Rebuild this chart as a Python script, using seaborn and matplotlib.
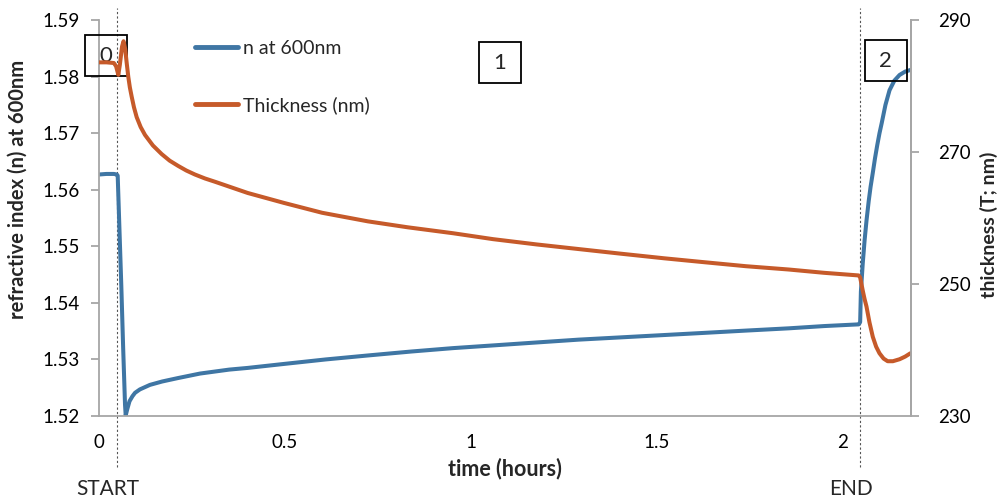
import matplotlib
matplotlib.use("Agg")
import matplotlib.pyplot as plt
from matplotlib.patches import Rectangle
from matplotlib.lines import Line2D
import seaborn as sns
import pandas as pd

# ---- data ----
n_time = [0.000, 0.020, 0.040, 0.048, 0.0503, 0.055, 0.060, 0.065, 0.070, 0.0718,
          0.076, 0.082, 0.090, 0.097, 0.110, 0.137, 0.170, 0.212, 0.2715, 0.350,
          0.400, 0.497, 0.610, 0.723, 0.840, 0.952, 1.065, 1.177, 1.290, 1.403,
          1.516, 1.629, 1.740, 1.855, 1.950, 2.043, 2.047, 2.049, 2.054, 2.059,
          2.064, 2.070, 2.075, 2.081, 2.087, 2.093, 2.099, 2.105, 2.115, 2.126,
          2.139, 2.153, 2.168, 2.183]
n_vals = [1.5627, 1.5628, 1.5628, 1.5627, 1.5625, 1.5530, 1.5430, 1.5320, 1.5220, 1.5201,
          1.5212, 1.5226, 1.5235, 1.5241, 1.5247, 1.5255, 1.5261, 1.5267, 1.5275, 1.5282,
          1.5285, 1.5292, 1.5300, 1.5307, 1.5314, 1.5320, 1.5325, 1.5330, 1.5335, 1.5339,
          1.5343, 1.5347, 1.5351, 1.5355, 1.5359, 1.5362, 1.5366, 1.5420, 1.5470, 1.5511,
          1.5545, 1.5580, 1.5605, 1.5630, 1.5656, 1.5679, 1.5700, 1.5718, 1.5750, 1.5776,
          1.5793, 1.5803, 1.5809, 1.5812]

t_time = [0.000, 0.020, 0.040, 0.046, 0.052, 0.056, 0.062, 0.066, 0.0705, 0.0745,
          0.0788, 0.0830, 0.0879, 0.0940, 0.1013, 0.1120, 0.1237, 0.1450, 0.1685, 0.190,
          0.213, 0.235, 0.258, 0.285, 0.312, 0.400, 0.497, 0.600, 0.723, 0.830,
          0.952, 1.060, 1.177, 1.290, 1.403, 1.520, 1.629, 1.740, 1.855, 1.950,
          2.043, 2.047, 2.054, 2.059, 2.064, 2.072, 2.081, 2.090, 2.099, 2.110,
          2.121, 2.135, 2.153, 2.168, 2.182]
t_vals = [283.6, 283.6, 283.5, 283.0, 281.7, 283.2, 286.0, 286.8, 285.6, 283.5,
          281.4, 279.8, 278.4, 276.8, 275.3, 273.8, 272.6, 271.0, 269.7, 268.7,
          267.9, 267.2, 266.6, 266.0, 265.5, 263.8, 262.3, 260.8, 259.5, 258.6,
          257.7, 256.8, 256.0, 255.3, 254.6, 253.9, 253.3, 252.7, 252.2, 251.7,
          251.3, 251.0, 249.0, 247.7, 246.6, 244.2, 242.0, 240.5, 239.5, 238.7,
          238.3, 238.3, 238.6, 239.0, 239.5]

x_ticks = [0, 0.5, 1, 1.5, 2]
x_tick_labels = ["0", "0.5", "1", "1.5", "2"]
n_ticks = [1.52, 1.53, 1.54, 1.55, 1.56, 1.57, 1.58, 1.59]
t_ticks = [230, 250, 270, 290]
phase_labels = ["0", "1", "2"]
phase_x = [0.019, 1.078, 2.116]
event_x = [0.048, 2.046]
event_labels = ["START", "END"]

BLUE = "#3F76A4"
ORANGE = "#C65A2A"
GRAY = "#A6A6A6"

sns.set_theme(style="white")
plt.rcParams["font.family"] = ["Lato", "DejaVu Sans"]

fig = plt.figure(figsize=(10.03, 5.03), dpi=100)
ax = fig.add_axes([0.0987, 0.173, 0.8093, 0.787])
ax2 = ax.twinx()

df_n = pd.DataFrame({"time": n_time, "n": n_vals})
df_t = pd.DataFrame({"time": t_time, "T": t_vals})

sns.lineplot(data=df_n, x="time", y="n", ax=ax, color=BLUE, linewidth=2.9,
             estimator=None, sort=False, legend=False)
sns.lineplot(data=df_t, x="time", y="T", ax=ax2, color=ORANGE, linewidth=2.9,
             estimator=None, sort=False, legend=False)
for a in (ax, ax2):
    for ln in a.get_lines():
        ln.set_solid_joinstyle("round")

ax.set_xlim(0, 2.183)
ax.set_ylim(1.52, 1.59)
ax2.set_ylim(230, 290)

ax.set_xticks(x_ticks)
ax.set_xticklabels(x_tick_labels)
ax.set_yticks(n_ticks)
ax.set_yticklabels([f"{v:.2f}" for v in n_ticks])
ax2.set_yticks(t_ticks)
ax2.set_yticklabels([str(v) for v in t_ticks])

for a in (ax, ax2):
    a.spines["top"].set_visible(False)
    for s in ("left", "right", "bottom"):
        a.spines[s].set_color(GRAY)
        a.spines[s].set_linewidth(1.3)
    a.tick_params(axis="both", colors=GRAY, labelcolor="#000000", labelsize=13.5,
                  length=6, width=1.3, direction="out")
ax.tick_params(axis="y", pad=8)
ax.tick_params(axis="x", pad=7)
ax2.tick_params(axis="y", pad=14)
ax2.spines["left"].set_visible(False)
ax2.spines["bottom"].set_visible(False)

ax.set_xlabel("time (hours)", fontsize=15.5, fontweight="bold")
ax.xaxis.set_label_coords(0.5, -0.105)
ax.set_ylabel("refractive index (n) at 600nm", fontsize=14.5, fontweight="bold")
ax.yaxis.set_label_coords(-0.088, 0.573)
ax2.set_ylabel("thickness (T; nm)", fontsize=14, fontweight="bold")
ax2.yaxis.set_label_coords(1.085, 0.482)

# dashed event lines
for xv, lab in zip(event_x, event_labels):
    ax.axvline(xv, ymin=-0.13, ymax=1.03, color="#555555", linestyle=(0, (2, 2)),
               linewidth=0.8, clip_on=False, zorder=1)
    ax.text(xv - 0.024, -0.185, lab, transform=ax.get_xaxis_transform(), ha="center",
            va="center", fontsize=15)

# phase boxes
box_w = 42 / 372.0
box_h = 41 / 396.0
box_top = [1 - 15 / 396.0, 1 - 22 / 396.0, 1 - 20 / 396.0]
for lab, xc, top in zip(phase_labels, phase_x, box_top):
    ax.add_patch(Rectangle((xc - box_w / 2, top - box_h), box_w, box_h,
                           transform=ax.get_xaxis_transform(), fill=False,
                           edgecolor="black", linewidth=1.3, clip_on=False, zorder=5))
    ax.text(xc, top - box_h / 2, lab, transform=ax.get_xaxis_transform(),
            ha="center", va="center", fontsize=16, zorder=6)

handles = [Line2D([0], [0], color=BLUE, linewidth=3.5, solid_capstyle="round"),
           Line2D([0], [0], color=ORANGE, linewidth=3.5, solid_capstyle="round")]
fig.legend(handles, ["n at 600nm", "Thickness (nm)"], loc="upper left",
           bbox_to_anchor=(0.177, 0.955), frameon=False, fontsize=14,
           handlelength=2.2, handletextpad=0.25, labelspacing=2.0)

fig.savefig("out.png", dpi=100)
